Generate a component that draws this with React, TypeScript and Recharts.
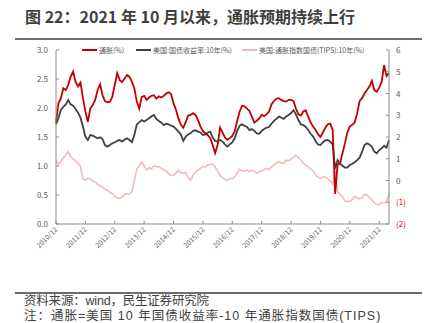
import { LineChart, Line, XAxis, YAxis } from "recharts";

const FONT = '"Noto Sans CJK SC", "Noto Sans", sans-serif';
const NOTE_FONT = '"Liberation Sans", "Noto Sans CJK SC", sans-serif';

const tickLabels = [
  "2010/12", "2011/12", "2012/12", "2013/12", "2014/12", "2015/12",
  "2016/12", "2017/12", "2018/12", "2019/12", "2020/12", "2021/12",
];

// 通胀 (breakeven, %), monthly, left axis
const inflation = [
  1.75, 2.08, 2.17, 2.34, 2.31, 2.40, 2.54, 2.63, 2.45, 2.37,
  2.44, 2.17, 1.94, 1.76, 1.99, 2.05, 2.14, 2.31, 2.41, 2.22,
  2.12, 2.10, 2.11, 2.19, 2.40, 2.60, 2.48, 2.45, 2.51, 2.57,
  2.54, 2.45, 2.34, 2.11, 1.99, 2.19, 2.21, 2.14, 2.18, 2.21,
  2.22, 2.16, 2.20, 2.18, 2.21, 2.25, 2.27, 2.24, 2.08, 1.97,
  1.82, 1.71, 1.66, 1.76, 1.87, 1.88, 1.91, 1.88, 1.79, 1.68,
  1.60, 1.56, 1.53, 1.48, 1.36, 1.22, 1.36, 1.66, 1.58, 1.49,
  1.45, 1.48, 1.52, 1.60, 1.78, 1.94, 2.04, 2.03, 1.99, 1.95,
  1.85, 1.75, 1.78, 1.82, 1.88, 1.86, 1.89, 1.94, 2.06, 2.12,
  2.16, 2.17, 2.14, 2.12, 2.11, 2.14, 2.14, 2.12, 1.99, 1.89,
  1.87, 1.94, 1.96, 1.85, 1.75, 1.68, 1.62, 1.55, 1.50, 1.58,
  1.66, 1.72, 1.73, 1.62, 0.52, 1.02, 1.05, 1.22, 1.39, 1.58,
  1.68, 1.71, 1.75, 1.91, 2.12, 2.17, 2.25, 2.31, 2.37, 2.47,
  2.31, 2.28, 2.35, 2.45, 2.74, 2.55, 2.60,
];

// 美国:国债收益率:10年 (%), right axis
const yield10y = [
  2.58, 2.86, 3.24, 3.39, 3.50, 3.70, 3.50, 3.44, 3.29, 3.12,
  2.89, 2.48, 2.02, 1.86, 2.09, 2.06, 2.00, 1.94, 1.99, 1.91,
  1.63, 1.56, 1.63, 1.71, 1.76, 1.82, 1.86, 1.79, 1.88, 1.94,
  1.86, 1.76, 2.09, 2.58, 2.67, 2.78, 2.71, 2.78, 2.86, 2.95,
  3.01, 2.83, 2.74, 2.67, 2.55, 2.61, 2.58, 2.52, 2.48, 2.37,
  2.25, 2.12, 1.82, 2.02, 2.12, 2.18, 2.28, 2.31, 2.25, 2.21,
  2.09, 2.12, 2.21, 2.25, 1.97, 1.82, 1.79, 1.86, 1.79, 1.66,
  1.56, 1.66, 1.76, 1.94, 2.28, 2.52, 2.58, 2.52, 2.46, 2.32,
  2.37, 2.28, 2.17, 2.15, 2.28, 2.37, 2.43, 2.46, 2.61, 2.74,
  2.83, 2.94, 2.89, 2.83, 2.94, 3.01, 3.10, 3.23, 3.04, 2.78,
  2.58, 2.55, 2.46, 2.32, 2.15, 2.02, 1.82, 1.66, 1.63, 1.76,
  1.85, 1.86, 1.79, 1.66, 0.55, 0.94, 0.77, 0.68, 0.59, 0.59,
  0.71, 0.77, 0.84, 0.94, 1.05, 1.33, 1.63, 1.71, 1.66, 1.56,
  1.33, 1.25, 1.40, 1.48, 1.60, 1.51, 1.86,
];

// 美国:通胀指数国债(TIPS):10年 (%), right axis
const tips10y = [
  0.94, 0.74, 0.90, 1.05, 1.17, 1.33, 1.10, 0.99, 0.90, 0.81,
  0.64, 0.07, 0.02, 0.10, 0.07, -0.02, -0.05, -0.18, -0.24, -0.30,
  -0.39, -0.45, -0.54, -0.61, -0.73, -0.79, -0.82, -0.76, -0.64, -0.61,
  -0.64, -0.51, 0.02, 0.53, 0.68, 0.84, 0.68, 0.48, 0.59, 0.53,
  0.68, 0.62, 0.64, 0.56, 0.50, 0.44, 0.33, 0.22, 0.25, 0.34,
  0.47, 0.36, 0.33, 0.38, 0.13, 0.02, 0.25, 0.41, 0.47, 0.56,
  0.64, 0.62, 0.71, 0.74, 0.74, 0.62, 0.44, 0.22, 0.13, 0.04,
  0.01, 0.10, 0.07, 0.19, 0.34, 0.53, 0.44, 0.44, 0.48, 0.41,
  0.47, 0.44, 0.33, 0.41, 0.44, 0.50, 0.56, 0.50, 0.62, 0.71,
  0.79, 0.87, 0.81, 0.79, 0.93, 0.90, 0.99, 1.05, 1.17, 1.05,
  0.93, 0.81, 0.71, 0.62, 0.53, 0.44, 0.25, 0.16, 0.10, 0.16,
  0.16, 0.07, -0.02, -0.18, 0.55, -0.51, -0.64, -0.74, -0.94, -0.97,
  -0.94, -0.88, -0.74, -0.79, -0.85, -0.79, -0.64, -0.67, -0.79, -0.90,
  -1.03, -1.10, -1.10, -1.00, -1.03, -0.97, -0.60,
];

const leftTicks = [0, 0.5, 1, 1.5, 2, 2.5, 3];
const rightTicks = [-2, -1, 0, 1, 2, 3, 4, 5, 6];

const data = inflation.map((v, i) => ({
  m: i,
  inflation: v,
  yield10y: yield10y[i],
  tips: tips10y[i],
}));

const AXIS = "#8c8c8c";
const LABEL = "#595959";

function XTick({ x, y, payload }: any) {
  const label = tickLabels[Math.round(payload.value / 12)];
  return (
    <g>
      <line x1={x} x2={x} y1={y} y2={y - 3} stroke={AXIS} />
      <text
        x={x + 2}
        y={y + 6}
        transform={`rotate(-45 ${x + 2} ${y + 6})`}
        textAnchor="end"
        fontSize={7}
        fill={LABEL}
        fontFamily={FONT}
      >
        {label}
      </text>
    </g>
  );
}

function LeftTick({ x, y, payload }: any) {
  return (
    <g>
      <line x1={x} x2={x + 3} y1={y} y2={y} stroke={AXIS} />
      <text x={x - 8} y={y} dy={3} textAnchor="end" fontSize={8} fill={LABEL} fontFamily={FONT}>
        {payload.value.toFixed(1)}
      </text>
    </g>
  );
}

function RightTick({ x, y, payload }: any) {
  const v = payload.value;
  const neg = v < 0;
  return (
    <g>
      <line x1={x} x2={x - 3} y1={y} y2={y} stroke={AXIS} />
      <text x={x + 7} y={y} dy={3} textAnchor="start" fontSize={8} fill={neg ? "#e00000" : LABEL} fontFamily={FONT}>
        {neg ? `(${-v})` : `${v}`}
      </text>
    </g>
  );
}

const legendItems = [
  { label: "通胀(%)", color: "#c00000", left: 82 },
  { label: "美国:国债收益率:10年(%)", color: "#404040", left: 136 },
  { label: "美国:通胀指数国债(TIPS):10年(%)", color: "#efbcbc", left: 242 },
];

export default function App() {
  return (
    <div
      style={{
        position: "absolute",
        top: 0,
        left: 0,
        width: 435,
        height: 323,
        background: "#fff",
        fontFamily: FONT,
        overflow: "hidden",
      }}
    >
      <div
        style={{
          position: "absolute",
          left: 25,
          top: 6,
          fontSize: 16,
          lineHeight: "20px",
          fontWeight: 700,
          color: "#3f3f3f",
          whiteSpace: "nowrap",
        }}
      >
        图 22：2021 年 10 月以来，通胀预期持续上行
      </div>
      <div style={{ position: "absolute", left: 15, top: 38, width: 407, height: 2, background: "#6e6e6e" }} />

      <div style={{ position: "absolute", left: 0, top: 0 }}>
        <LineChart width={435} height={323} data={data} margin={{ top: 50, right: 6, left: 0, bottom: 69 }}>
          <XAxis
            dataKey="m"
            type="number"
            domain={[0, 136]}
            ticks={tickLabels.map((_, i) => i * 12)}
            interval={0}
            height={30}
            stroke={AXIS}
            tickLine={false}
            tickSize={0}
            tickMargin={0}
            tick={<XTick />}
          />
          <YAxis
            yAxisId="left"
            domain={[0, 3]}
            ticks={leftTicks}
            interval={0}
            width={56}
            stroke={AXIS}
            tickLine={false}
            tickSize={0}
            tickMargin={0}
            tick={<LeftTick />}
          />
          <YAxis
            yAxisId="right"
            orientation="right"
            domain={[-2, 6]}
            ticks={rightTicks}
            interval={0}
            width={40}
            stroke={AXIS}
            tickLine={false}
            tickSize={0}
            tickMargin={0}
            tick={<RightTick />}
          />
          <Line
            yAxisId="right"
            dataKey="tips"
            stroke="#efbcbc"
            strokeWidth={1.6}
            dot={false}
            isAnimationActive={false}
          />
          <Line
            yAxisId="right"
            dataKey="yield10y"
            stroke="#404040"
            strokeWidth={1.8}
            dot={false}
            isAnimationActive={false}
          />
          <Line
            yAxisId="left"
            dataKey="inflation"
            stroke="#c00000"
            strokeWidth={1.8}
            dot={false}
            isAnimationActive={false}
          />
        </LineChart>
      </div>

      {legendItems.map((it) => (
        <div
          key={it.label}
          style={{
            position: "absolute",
            left: it.left,
            top: 45,
            height: 10,
            display: "flex",
            alignItems: "center",
            fontSize: 7,
            color: LABEL,
            whiteSpace: "nowrap",
          }}
        >
          <span style={{ display: "inline-block", width: 15, height: 2, background: it.color, marginRight: 2 }} />
          {it.label}
        </div>
      ))}

      <div style={{ position: "absolute", left: 15, top: 292, width: 407, height: 2, background: "#6e6e6e" }} />
      <div
        style={{
          position: "absolute",
          left: 24,
          top: 294,
          height: 14,
          fontFamily: NOTE_FONT,
          fontSize: 12.5,
          lineHeight: "14px",
          letterSpacing: -0.2,
          color: "#404040",
          whiteSpace: "nowrap",
        }}
      >
        资料来源：wind，民生证券研究院
      </div>
      <div
        style={{
          position: "absolute",
          left: 24,
          top: 309,
          height: 14,
          fontFamily: NOTE_FONT,
          fontSize: 12.5,
          lineHeight: "14px",
          letterSpacing: 1,
          color: "#404040",
          whiteSpace: "nowrap",
        }}
      >
        注：通胀=美国 10 年国债收益率-10 年通胀指数国债(TIPS)
      </div>
    </div>
  );
}
